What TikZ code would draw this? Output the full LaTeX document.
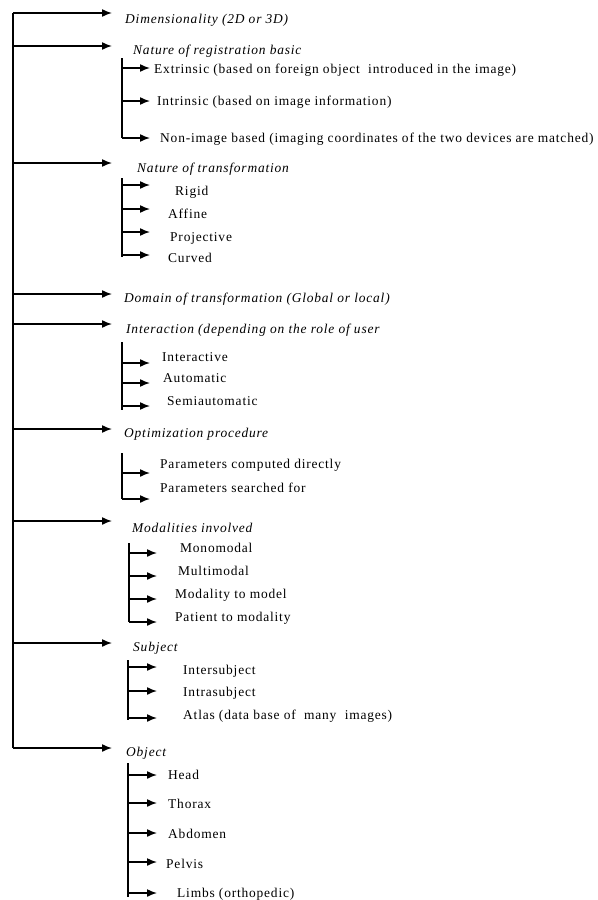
\documentclass[tikz,border=0pt]{standalone}
\usepackage{fontspec}
\setmainfont{Liberation Serif}[LetterSpace=6]
\usepackage{tikz}
\usetikzlibrary{arrows.meta}

\begin{document}
\begin{tikzpicture}[
            x=1bp, y=-1bp,
            cat/.style={font=\fontsize{13.5}{15}\selectfont\itshape, anchor=west, inner sep=0pt},
            item/.style={font=\fontsize{13.5}{15}\selectfont, anchor=west, inner sep=0pt},
            arr/.style={-{Latex[length=10bp, width=8bp]}, line width=1.5bp},
            bar/.style={line width=1.5bp},
        ]
        \useasboundingbox (0,0) rectangle (598,900);
        % main spine and the category arrows
        \coordinate (top) at (13,13);
        \coordinate (bot) at (13,748);
        \draw[bar] (top) -- (bot);
        \foreach \n/\y in {dim/13, reg/46, trf/163, dom/294, int/324, opt/429, mod/521, sub/643, obj/748}{
            \coordinate (\n-s) at (13,\y);
            \coordinate (\n-t) at (112,\y);
            \draw[arr] (\n-s) -- (\n-t);
        }
        \node[cat] (dim) at (125,20) {Dimensionality (2D or 3D)};
        \node[cat] (reg) at (133,51) {Nature of registration basic};
        \node[cat] (trf) at (137,169) {Nature of transformation};
        \node[cat] (dom) at (124,299) {Domain of transformation (Global or local)};
        \node[cat] (int) at (126,330) {Interaction (depending on the role of user};
        \node[cat] (opt) at (124,434) {Optimization procedure};
        \node[cat] (mod) at (132,528) {Modalities involved};
        \node[cat] (sub) at (133,648) {Subject};
        \node[cat] (obj) at (126,753) {Object};
        % registration basis
        \draw[bar] (122,58) coordinate (reg-a) -- (122,138) coordinate (reg-b);
        \foreach \n/\y in {ext/68, ins/101, non/138}{
            \draw[arr] (122,\y) coordinate (\n-s) -- (150,\y) coordinate (\n-t);
        }
        \node[item] (ext) at (154,70) {Extrinsic (based on foreign object \ introduced in the image)};
        \node[item] (ins) at (157,102) {Intrinsic (based on image information)};
        \node[item] (non) at (160,139) {Non-image based (imaging coordinates of the two devices are matched)};
        % transformation
        \draw[bar] (122,178) coordinate (trf-a) -- (122,257) coordinate (trf-b);
        \foreach \n/\y in {rig/185, aff/209, pro/232, cur/255}{
            \draw[arr] (122,\y) coordinate (\n-s) -- (150,\y) coordinate (\n-t);
        }
        \node[item] (rig) at (175,192) {Rigid};
        \node[item] (aff) at (168,214) {Affine};
        \node[item] (pro) at (170,238) {Projective};
        \node[item] (cur) at (168,258) {Curved};
        % interaction
        \draw[bar] (122,342) coordinate (int-a) -- (122,410) coordinate (int-b);
        \foreach \n/\y in {iac/363, aut/383, sem/406}{
            \draw[arr] (122,\y) coordinate (\n-s) -- (150,\y) coordinate (\n-t);
        }
        \node[item] (iac) at (162,357) {Interactive};
        \node[item] (aut) at (163,378) {Automatic};
        \node[item] (sem) at (167,401) {Semiautomatic};
        % optimization
        \draw[bar] (122,453) coordinate (opt-a) -- (122,499) coordinate (opt-b);
        \foreach \n/\y in {pcd/473, psf/499}{
            \draw[arr] (122,\y) coordinate (\n-s) -- (150,\y) coordinate (\n-t);
        }
        \node[item] (pcd) at (160,465) {Parameters computed directly};
        \node[item] (psf) at (160,488) {Parameters searched for};
        % modalities
        \draw[bar] (129,543) coordinate (mod-a) -- (129,622) coordinate (mod-b);
        \foreach \n/\y in {mon/553, mul/576, mtm/599, ptm/622}{
            \draw[arr] (129,\y) coordinate (\n-s) -- (157,\y) coordinate (\n-t);
        }
        \node[item] (mon) at (180,548) {Monomodal};
        \node[item] (mul) at (178,571) {Multimodal};
        \node[item] (mtm) at (175,595) {Modality to model};
        \node[item] (ptm) at (175,618) {Patient to modality};
        % subject
        \draw[bar] (128,660) coordinate (sub-a) -- (128,720) coordinate (sub-b);
        \foreach \n/\y in {ise/667, isa/691, atl/718}{
            \draw[arr] (128,\y) coordinate (\n-s) -- (157,\y) coordinate (\n-t);
        }
        \node[item] (ise) at (183,671) {Intersubject};
        \node[item] (isa) at (183,693) {Intrasubject};
        \node[item] (atl) at (183,716) {Atlas (data base of \ many \ images)};
        % object
        \draw[bar] (128,763) coordinate (obj-a) -- (128,897) coordinate (obj-b);
        \foreach \n/\y in {hea/775, tho/803, abd/833, pel/862, lim/893}{
            \draw[arr] (128,\y) coordinate (\n-s) -- (157,\y) coordinate (\n-t);
        }
        \node[item] (hea) at (168,775) {Head};
        \node[item] (tho) at (168,804) {Thorax};
        \node[item] (abd) at (168,834) {Abdomen};
        \node[item] (pel) at (166,864) {Pelvis};
        \node[item] (lim) at (177,894) {Limbs (orthopedic)};
    \end{tikzpicture}
\end{document}
